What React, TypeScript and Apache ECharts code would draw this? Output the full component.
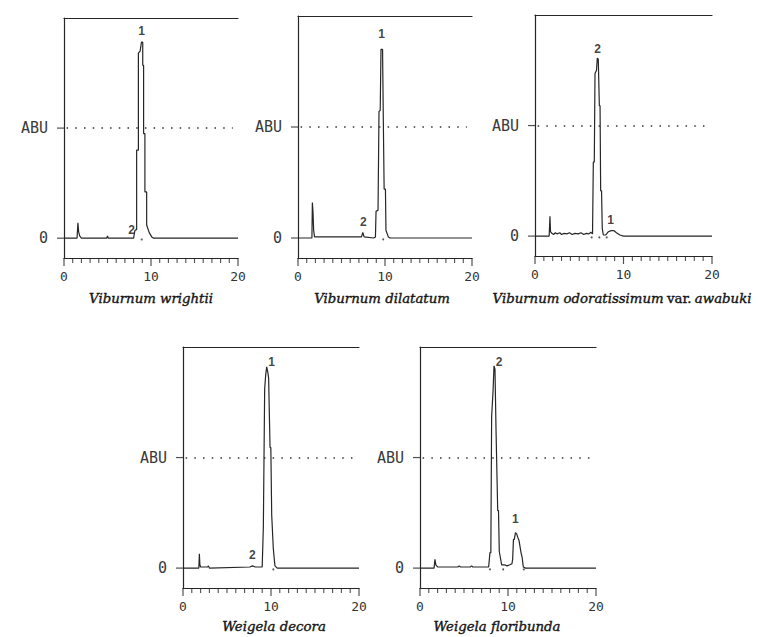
import React, { useEffect, useRef } from 'react';
import * as echarts from 'echarts';

// ---------- DATA ----------
const xRange = [0, 20];
const xMinorTickValues = [1, 2, 3, 4, 5, 6, 7, 8, 9, 11, 12, 13, 14, 15, 16, 17, 18, 19];
const xMajorTickValues = [0, 10, 20];
const xLabelValues = [0, 10, 20];
const yTickValues = [0, 1];
const yTickLabels = ['0', 'ABU'];

const captions = [
  '{i|Viburnum wrightii}',
  '{i|Viburnum dilatatum}',
  '{i|Viburnum odoratissimum} {r|var.} {i|awabuki}',
  '{i|Weigela decora}',
  '{i|Weigela floribunda}',
];

// traces: [retention time (min), abundance (ABU = 1)]
const wrightiiTrace = [
  [0, 0], [1.5, 0], [1.6, 0.14], [1.68, 0.06], [1.8, 0.02], [2.0, 0], [4.9, 0], [5.0, 0.02], [5.1, 0],
  [8.0, 0], [8.15, 0.07], [8.35, 0.08], [8.35, 0.8], [8.55, 0.8], [8.55, 1.68], [8.75, 1.7], [8.9, 1.78],
  [9.05, 1.78], [9.05, 1.57], [9.15, 1.57], [9.15, 0.95], [9.3, 0.95], [9.3, 0.42], [9.5, 0.42], [9.5, 0.12],
  [9.8, 0.05], [10.1, 0.01], [10.3, 0], [20, 0],
];
const dilatatumTrace = [
  [0, 0], [1.6, 0], [1.65, 0.32], [1.72, 0.24], [1.8, 0.07], [1.9, 0.01], [7.3, 0.01], [7.45, 0.05], [7.6, 0.01],
  [8.7, 0], [8.9, 0.01], [8.97, 0.24], [9.2, 0.25], [9.31, 1.14], [9.45, 1.15], [9.54, 1.7], [9.72, 1.7],
  [9.81, 1.04], [9.9, 0.44], [10.05, 0.44], [10.11, 0.07], [10.38, 0.01], [10.6, 0], [20, 0],
];
const awabukiTrace = [
  [0, 0], [1.6, 0], [1.69, 0.18], [1.75, 0.04], [1.9, 0.025], [2.1, 0.015], [2.3, 0.03], [2.5, 0.02], [2.8, 0.03],
  [3.0, 0.015], [3.3, 0.025], [3.6, 0.02], [3.9, 0.03], [4.2, 0.015], [4.5, 0.025], [4.9, 0.02], [5.2, 0.03],
  [5.5, 0.015], [5.8, 0.025], [6.1, 0.02], [6.3, 0.035], [6.5, 0.02], [6.59, 0.67], [6.7, 0.67], [6.78, 1.47],
  [6.95, 1.5], [7.04, 1.61], [7.15, 1.6], [7.27, 1.18], [7.35, 1.18], [7.42, 0.41], [7.52, 0.41], [7.6, 0.07],
  [7.72, 0.01], [8.0, 0.01], [8.3, 0.04], [8.6, 0.05], [8.9, 0.05], [9.2, 0.03], [9.6, 0.01], [10, 0], [20, 0],
];
const decoraTrace = [
  [0, 0], [1.8, 0], [1.86, 0.13], [1.92, 0.03], [2.0, 0.01], [2.8, 0.01], [2.9, 0.02], [3.0, 0], [7.6, 0.01],
  [7.9, 0.02], [8.2, 0.01], [9.0, 0.01], [9.13, 0.37], [9.2, 0.37], [9.28, 1.62], [9.4, 1.75], [9.51, 1.82],
  [9.62, 1.78], [9.73, 1.72], [9.89, 1.09], [9.98, 1.09], [10.08, 0.48], [10.16, 0.48], [10.26, 0.18],
  [10.35, 0.1], [10.45, 0.02], [10.7, 0], [20, 0],
];
const floribundaTrace = [
  [0, 0], [1.6, 0], [1.7, 0.08], [1.8, 0.03], [2.0, 0.01], [4.3, 0.01], [4.45, 0.02], [4.6, 0.01], [5.7, 0.01],
  [5.87, 0.02], [6.0, 0.01], [7.8, 0.01], [7.95, 0.14], [8.05, 0.14], [8.14, 1.37], [8.3, 1.6], [8.41, 1.83],
  [8.52, 1.8], [8.64, 1.25], [8.72, 1.25], [8.83, 0.52], [8.92, 0.52], [9.01, 0.15], [9.28, 0.03], [9.6, 0.03],
  [9.9, 0.02], [10.2, 0.03], [10.45, 0.04], [10.53, 0.08], [10.62, 0.26], [10.72, 0.26], [10.85, 0.32],
  [10.99, 0.31], [11.1, 0.28], [11.25, 0.25], [11.48, 0.14], [11.6, 0.1], [11.74, 0.01], [12, 0], [20, 0],
];

// peak numbers: [time, height, label]
const wrightiiPeaks = [[8.93, 1.88, '1'], [7.78, 0.075, '2']];
const dilatatumPeaks = [[9.62, 1.84, '1'], [7.5, 0.14, '2']];
const awabukiPeaks = [[7.08, 1.69, '2'], [8.55, 0.15, '1']];
const decoraPeaks = [[10.08, 1.86, '1'], [7.88, 0.12, '2']];
const floribundaPeaks = [[8.98, 1.86, '2'], [10.83, 0.44, '1']];

// integration marks on the baseline (times)
const wrightiiMarks = [8.93];
const dilatatumMarks = [9.8];
const awabukiMarks = [6.4, 7.27, 8.1];
const decoraMarks = [10.26];
const floribundaMarks = [7.95, 9.45, 11.8];

const traces = [wrightiiTrace, dilatatumTrace, awabukiTrace, decoraTrace, floribundaTrace];
const peaks = [wrightiiPeaks, dilatatumPeaks, awabukiPeaks, decoraPeaks, floribundaPeaks];
const marks = [wrightiiMarks, dilatatumMarks, awabukiMarks, decoraMarks, floribundaMarks];

// ---------- LAYOUT ----------
const grids = [
  { left: 64, top: 18, width: 174, height: 240 },
  { left: 298, top: 16, width: 174, height: 242 },
  { left: 535, top: 15, width: 177, height: 241 },
  { left: 183, top: 347, width: 176, height: 241 },
  { left: 420, top: 347, width: 176, height: 241 },
];
const captionPos = [
  [151, 298], [382, 298], [622, 298], [274, 626], [497, 626],
];
const yMin = -0.18;
const yMax = 2;
const abuExtent = [0.3, 19.4];
const minorTickLen = 5;
const majorTickLen = 8;
const yTickLen = 7;

const ink = '#262626';
const mono = 'DejaVu Sans Mono';
const serif = 'DejaVu Serif';

export default function App() {
  const ref = useRef<HTMLDivElement>(null);

  useEffect(() => {
    if (!ref.current) return;
    const chart = echarts.init(ref.current, null, { renderer: 'svg' });
    const axisLine = { show: true, onZero: false, lineStyle: { color: ink, width: 1.2 } };

    const xAxes: any[] = [];
    const yAxes: any[] = [];
    const series: any[] = [];

    grids.forEach((_, i) => {
      xAxes.push({
        gridIndex: i,
        type: 'value',
        position: 'bottom',
        min: xRange[0],
        max: xRange[1],
        axisLine,
        axisTick: { show: false },
        axisLabel: {
          customValues: xLabelValues,
          fontFamily: mono,
          fontSize: 13,
          color: '#333',
          margin: 12,
        },
        splitLine: { show: false },
      });
    });
    grids.forEach((_, i) => {
      xAxes.push({
        gridIndex: i,
        type: 'value',
        position: 'top',
        min: xRange[0],
        max: xRange[1],
        axisLine,
        axisTick: { show: false },
        axisLabel: { show: false },
        splitLine: { show: false },
      });
    });
    grids.forEach((_, i) => {
      yAxes.push({
        gridIndex: i,
        type: 'value',
        min: yMin,
        max: yMax,
        axisLine,
        axisTick: { show: false },
        axisLabel: {
          customValues: yTickValues,
          formatter: (v: number) => yTickLabels[yTickValues.indexOf(Math.round(v))] ?? '',
          fontFamily: mono,
          fontSize: 15,
          color: '#3a3a3a',
          margin: 16,
        },
        splitLine: { show: false },
      });

      series.push({
        type: 'line',
        xAxisIndex: i,
        yAxisIndex: i,
        data: traces[i],
        symbol: 'none',
        showSymbol: false,
        lineStyle: { color: ink, width: 1.2 },
        markLine: {
          silent: true,
          symbol: ['none', 'none'],
          label: { show: false },
          lineStyle: { color: '#333', width: 1.5, type: [1.5, 7.2] },
          data: [[{ coord: [abuExtent[0], 1] }, { coord: [abuExtent[1], 1] }]],
        },
      });
      // x-axis minor tick marks
      series.push({
        type: 'scatter',
        xAxisIndex: i,
        yAxisIndex: i,
        clip: false,
        silent: true,
        symbol: 'rect',
        symbolSize: [1.1, minorTickLen],
        symbolOffset: [0, minorTickLen / 2],
        itemStyle: { color: ink },
        data: xMinorTickValues.map((t) => [t, yMin]),
      });
      // x-axis major tick marks
      series.push({
        type: 'scatter',
        xAxisIndex: i,
        yAxisIndex: i,
        clip: false,
        silent: true,
        symbol: 'rect',
        symbolSize: [1.2, majorTickLen],
        symbolOffset: [0, majorTickLen / 2],
        itemStyle: { color: ink },
        data: xMajorTickValues.map((t) => [t, yMin]),
      });
      // y-axis tick marks at 0 and ABU
      series.push({
        type: 'scatter',
        xAxisIndex: i,
        yAxisIndex: i,
        clip: false,
        silent: true,
        symbol: 'rect',
        symbolSize: [yTickLen, 1.2],
        symbolOffset: [-yTickLen / 2, 0],
        itemStyle: { color: ink },
        data: yTickValues.map((v) => [xRange[0], v]),
      });
      series.push({
        type: 'scatter',
        xAxisIndex: i,
        yAxisIndex: i,
        data: marks[i].map((t) => [t, -0.012]),
        symbolSize: 2,
        itemStyle: { color: '#333' },
        silent: true,
      });
      series.push({
        type: 'scatter',
        xAxisIndex: i,
        yAxisIndex: i,
        data: peaks[i].map(([t, v, l]) => ({ value: [t, v], name: l })),
        symbolSize: 0,
        silent: true,
        label: {
          show: true,
          position: 'inside',
          formatter: '{b}',
          fontFamily: 'Liberation Sans',
          fontWeight: 'bold',
          fontSize: 12,
          color: '#111',
        },
      });
    });

    const captionStyle = {
      fontFamily: serif,
      fontSize: 13.3,
      fill: '#151515',
      stroke: '#151515',
      lineWidth: 0.4,
    };
    const graphic = captions.map((c, i) => ({
      type: 'text',
      x: captionPos[i][0],
      y: captionPos[i][1],
      style: {
        text: c,
        align: 'center',
        verticalAlign: 'middle',
        rich: {
          i: { ...captionStyle, fontStyle: 'italic' },
          r: { ...captionStyle },
        },
      },
    }));

    chart.setOption({
      animation: false,
      backgroundColor: '#ffffff',
      grid: grids.map((g) => ({ ...g, containLabel: false })),
      xAxis: xAxes,
      yAxis: yAxes,
      series,
      graphic,
    });

    return () => chart.dispose();
  }, []);

  return (
    <div
      ref={ref}
      style={{ position: 'absolute', left: 0, top: 0, width: 758, height: 637 }}
    />
  );
}
